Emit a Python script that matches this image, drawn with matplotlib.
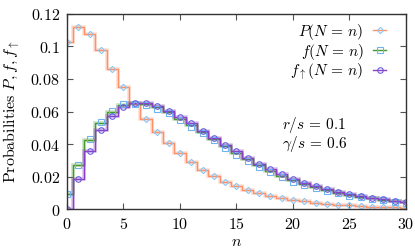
import matplotlib
matplotlib.use("Agg")
import matplotlib.pyplot as plt
from matplotlib.lines import Line2D
from matplotlib.ticker import FuncFormatter

plt.rcParams['mathtext.fontset'] = 'cm'
plt.rcParams['font.family'] = ['DejaVu Serif']

n = list(range(31))
P = [0.1028, 0.1120, 0.1077, 0.0978, 0.0862, 0.0753, 0.0645, 0.0556, 0.0476, 0.0406,
     0.0343, 0.0288, 0.0241, 0.0202, 0.0168, 0.0140, 0.0117, 0.0097, 0.0081, 0.0067,
     0.0056, 0.0047, 0.0039, 0.0032, 0.0027, 0.0022, 0.0018, 0.0015, 0.0012, 0.0010, 0.0008]
f = [0.0092, 0.0271, 0.0422, 0.0531, 0.0598, 0.0638, 0.0650, 0.0645, 0.0625, 0.0596,
     0.0556, 0.0515, 0.0471, 0.0428, 0.0385, 0.0344, 0.0305, 0.0269, 0.0236, 0.0206,
     0.0179, 0.0155, 0.0134, 0.0116, 0.0101, 0.0088, 0.0076, 0.0066, 0.0057, 0.0049, 0.0042]
f_pts = [0.0092, 0.0272, 0.0428, 0.0535, 0.0603, 0.0644, 0.0648, 0.0640, 0.0618, 0.0588,
         0.0547, 0.0505, 0.0466, 0.0422, 0.0377, 0.0334, 0.0298, 0.0258, 0.0228, 0.0195,
         0.0168, 0.0146, 0.0129, 0.0108, 0.0098, 0.0083, 0.0072, 0.0062, 0.0053, 0.0046, 0.0036]
fup = [0.0, 0.0185, 0.0357, 0.0486, 0.0574, 0.0630, 0.0650, 0.0650, 0.0634, 0.0606,
       0.0568, 0.0527, 0.0483, 0.0439, 0.0396, 0.0354, 0.0315, 0.0279, 0.0245, 0.0214,
       0.0186, 0.0161, 0.0140, 0.0122, 0.0107, 0.0093, 0.0081, 0.0070, 0.0061, 0.0052, 0.0045]

labels = [r'$P(N\,=\,n)$', r'$f(N\,=\,n)$', r'$f_{\uparrow}(N\,=\,n)$']
xticks = [0, 5, 10, 15, 20, 25, 30]
yticks = [0, 0.02, 0.04, 0.06, 0.08, 0.1, 0.12]

c_P, c_f, c_u = '#fd9068', '#46992a', '#8a3fc4'
m_P, m_f, m_u = '#8cc6f2', '#6fb4ee', '#6a5ce0'

fig = plt.figure(figsize=(4.15, 2.49), dpi=100)
ax = fig.add_axes([0.1614, 0.1606, 0.8169, 0.7832])

for y, c in [(P, c_P), (f, c_f), (fup, c_u)]:
    ax.step(n, y, where='mid', color=c, lw=2.6, alpha=0.3, solid_joinstyle='miter')
    ax.step(n, y, where='mid', color=c, lw=1.0)

ax.plot(n, P, ls='none', marker='D', ms=3.2, mfc='none', mec=m_P, mew=0.8)
ax.plot(n, f_pts, ls='none', marker='s', ms=3.8, mfc='none', mec=m_f, mew=0.8)
ax.plot(n, fup, ls='none', marker='o', ms=4.0, mfc='none', mec=m_u, mew=0.8)

ax.set_xlim(0, 30)
ax.set_ylim(0, 0.12)
ax.set_xticks(xticks)
ax.set_yticks(yticks)
ax.xaxis.set_major_formatter(FuncFormatter(lambda v, p: r'$%g$' % v))
ax.yaxis.set_major_formatter(FuncFormatter(lambda v, p: r'$%g$' % round(v, 2)))
ax.tick_params(direction='in', length=4, width=0.8, labelsize=11.5, color='#555555',
               top=True, right=True, pad=5)
for s in ax.spines.values():
    s.set_color('#333333')
    s.set_linewidth(1.0)

ax.set_xlabel(r'$n$', fontsize=11.5, labelpad=0)
ax.set_ylabel(r'$\mathrm{Probabilities}\ P, f, f_{\uparrow}$', fontsize=11.5, labelpad=6)

ax.text(19, 0.0515, r'$r/s\,=\,0.1$', fontsize=11, va='center', ha='left')
ax.text(19, 0.0400, r'$\gamma/s\,=\,0.6$', fontsize=11, va='center', ha='left')

handles = [
    Line2D([], [], color=c_P, lw=1, marker='D', ms=3.2, mfc='none', mec=m_P, mew=0.8),
    Line2D([], [], color=c_f, lw=1, marker='s', ms=3.8, mfc='none', mec=m_f, mew=0.8),
    Line2D([], [], color=c_u, lw=1, marker='o', ms=4.0, mfc='none', mec=m_u, mew=0.8),
]
ax.legend(handles, labels, loc='upper right', frameon=False, markerfirst=False,
          fontsize=11, handlelength=0.9, handletextpad=0.6, labelspacing=0.0,
          borderaxespad=0.1, bbox_to_anchor=(0.965, 1.0))

fig.savefig('out.png', dpi=100)
